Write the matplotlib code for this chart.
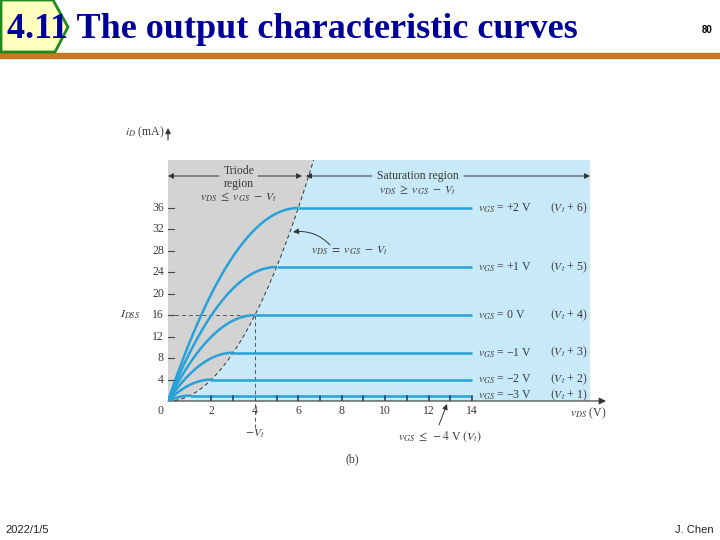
import matplotlib
matplotlib.use('Agg')
import matplotlib.pyplot as plt
import numpy as np
from matplotlib.patches import Polygon, Rectangle

plt.rcParams['mathtext.fontset'] = 'stix'
plt.rcParams['font.family'] = ['Liberation Serif', 'DejaVu Serif']

# Data
overdrive = [6, 5, 4, 3, 2, 1]            # v_GS - V_t (V)
i_sat = [36, 25, 16, 9, 4, 1]             # saturation current (mA)
vgs_labels = ['+2 V', '+1 V', '0 V', '\u22121 V', '\u22122 V', '\u22123 V']
vt_labels = ['6', '5', '4', '3', '2', '1']
x_ticks = [0, 2, 4, 6, 8, 10, 12, 14]
y_ticks = [4, 8, 12, 16, 20, 24, 28, 32, 36]
v_end = 14
i_dss = 16
vt_neg = 4

# pixel helpers for the slide layout
px_x = 21.714   # px per volt
px_y = 5.361    # px per mA
x0_px, y0_px = 168, 401

def dx(px):
    return (px - x0_px) / px_x

def dy(py):
    return (y0_px - py) / px_y

fig = plt.figure(figsize=(7.2, 5.4), dpi=100)

# --- slide decorations ---
fig.patches.append(Rectangle((0, 1 - 58 / 540), 1, 5 / 540, transform=fig.transFigure,
                             color='#c8781e', zorder=1))
banner = Polygon([(1 / 720, 1), (53 / 720, 1), (68 / 720, 1 - 27 / 540),
                  (55 / 720, 1 - 52 / 540), (1 / 720, 1 - 52 / 540)],
                 closed=True, transform=fig.transFigure, facecolor='#ffffc0',
                 edgecolor='#1e8a1e', linewidth=2, zorder=2)
fig.patches.append(banner)
fig.text(7 / 720, 1 - 29 / 540, '4.11 The output characteristic curves',
         fontsize=26, fontweight='bold', color='#000099', va='center', ha='left',
         family='Liberation Serif', zorder=3)
fig.text(712 / 720, 1 - 30 / 540, '80', fontsize=7, fontweight='bold',
         ha='right', va='center', family='Liberation Sans')
fig.text(5 / 720, 1 - 530 / 540, '2022/1/5', fontsize=8, ha='left', va='center',
         family='Liberation Sans', color='#222222')
fig.text(714 / 720, 1 - 530 / 540, 'J. Chen', fontsize=8, ha='right', va='center',
         family='Liberation Sans', color='#222222')

# --- chart ---
ax = fig.add_axes([x0_px / 720, (540 - y0_px) / 540, 438.6 / 720, 270 / 540])
ax.set_xlim(0, 438.6 / px_x)
ax.set_ylim(0, 270 / px_y)
ax.axis('off')

top = dy(160)
right = dx(590)
v_top = np.sqrt(top)

ax.add_patch(Rectangle((0, 0), right, top, facecolor='#c8e9f8', edgecolor='none', zorder=0))
vb = np.linspace(0, v_top, 100)
gray_pts = np.column_stack([np.r_[vb, 0], np.r_[vb ** 2, top]])
ax.add_patch(Polygon(gray_pts, closed=True, facecolor='#d3d3d3', edgecolor='none', zorder=1))
ax.plot(vb, vb ** 2, color='#333333', lw=0.7, ls=(0, (4, 3)), zorder=3)

curve_color = '#27a2d8'
text_color = '#3a3a3a'
fs = 8.5
for vov, isat, lab, vtl in zip(overdrive, i_sat, vgs_labels, vt_labels):
    k = isat / vov ** 2
    v = np.linspace(0, vov, 80)
    ax.plot(v, k * (2 * vov * v - v ** 2), color=curve_color, lw=1.8, zorder=4,
            solid_capstyle='butt')
    ax.plot([vov, v_end], [isat, isat], color=curve_color, lw=1.8, zorder=4,
            solid_capstyle='butt')
    ax.text(dx(478), isat, r'$v_{GS}$ = ' + lab, fontsize=fs, color=text_color,
            ha='left', va='center', zorder=5)
    ax.text(dx(588), isat, r'$(V_t$ + ' + vtl + ')', fontsize=fs, color=text_color,
            ha='right', va='center', zorder=5)

# axes lines and ticks
ax.annotate('', xy=(dx(606), 0), xytext=(0, 0),
            arrowprops=dict(arrowstyle='-|>', color='#333333', lw=0.8,
                            mutation_scale=10, shrinkA=0, shrinkB=0), annotation_clip=False)
ax.annotate('', xy=(0, dy(128)), xytext=(0, dy(140)),
            arrowprops=dict(arrowstyle='-|>', color='#333333', lw=0.8,
                            mutation_scale=8, shrinkA=0, shrinkB=0), annotation_clip=False)
for t in range(2, v_end + 1):
    if t != vt_neg:
        ax.plot([t, t], [0, 1], color='#2a4a66', lw=1.2, zorder=5)
for t in x_ticks:
    xt = dx(160) if t == 0 else t
    ax.text(xt, dy(411), str(t), fontsize=fs, color=text_color, ha='center', va='center',
            clip_on=False)
for t in y_ticks:
    ax.plot([0, dx(174)], [t, t], color='#444444', lw=0.8, zorder=5)
    ax.text(dx(164), t, str(t), fontsize=fs, color=text_color, ha='right', va='center',
            clip_on=False)

ax.text(dx(125), dy(132), r'$i_D$ (mA)', fontsize=fs, color=text_color, ha='left',
        va='center', clip_on=False)
ax.text(dx(606), dy(413), r'$v_{DS}$ (V)', fontsize=fs, color=text_color, ha='right',
        va='center', clip_on=False)

# I_DSS and -V_t guides
ax.plot([0, vt_neg], [i_dss, i_dss], color='#555555', lw=0.7, ls=(0, (4, 3)), zorder=3)
ax.plot([vt_neg, vt_neg], [dy(428), i_dss], color='#555555', lw=0.7, ls=(0, (4, 3)),
        zorder=3, clip_on=False)
ax.text(dx(130), i_dss, r'$I_{DSS}$', fontsize=fs, color=text_color, ha='center',
        va='center', clip_on=False)
ax.text(vt_neg, dy(434), r'$-V_t$', fontsize=fs, color=text_color, ha='center',
        va='center', clip_on=False)

# region labels
arr = dict(arrowstyle='-|>', color='#333333', lw=0.7, mutation_scale=8,
           shrinkA=0, shrinkB=0)
y_reg = dy(176)
ax.annotate('', xy=(0, y_reg), xytext=(dx(219), y_reg), arrowprops=arr)
ax.annotate('', xy=(dx(302), y_reg), xytext=(dx(258), y_reg), arrowprops=arr)
ax.text(dx(239), dy(171), 'Triode', fontsize=fs, color=text_color, ha='center', va='center')
ax.text(dx(239), dy(184), 'region', fontsize=fs, color=text_color, ha='center', va='center')
ax.text(dx(239), dy(197), r'$v_{DS}\ \leq\ v_{GS}\ -\ V_t$', fontsize=fs,
        color=text_color, ha='center', va='center')

ax.annotate('', xy=(dx(306), y_reg), xytext=(dx(372), y_reg), arrowprops=arr)
ax.annotate('', xy=(dx(590), y_reg), xytext=(dx(464), y_reg), arrowprops=arr)
ax.text(dx(418), dy(176), 'Saturation region', fontsize=fs, color=text_color,
        ha='center', va='center')
ax.text(dx(418), dy(190), r'$v_{DS}\ \geq\ v_{GS}\ -\ V_t$', fontsize=fs,
        color=text_color, ha='center', va='center')

ax.annotate('', xy=(dx(293), dy(232)), xytext=(dx(330), dy(245)),
            arrowprops=dict(arrowstyle='-|>', color='#333333', lw=0.7, mutation_scale=8,
                            connectionstyle='arc3,rad=0.25', shrinkA=0, shrinkB=0))
ax.text(dx(350), dy(251), r'$v_{DS}\ =\ v_{GS}\ -\ V_t$', fontsize=fs,
        color=text_color, ha='center', va='center')

ax.annotate('', xy=(dx(447), dy(404)), xytext=(dx(439), dy(425)),
            arrowprops=arr, annotation_clip=False)
ax.text(dx(440), dy(437), r'$v_{GS}\ \leq\ -4$ V $(V_t)$', fontsize=fs,
        color=text_color, ha='center', va='center', clip_on=False)
ax.text(dx(352), dy(459), '(b)', fontsize=fs, color=text_color, ha='center',
        va='center', clip_on=False)

fig.savefig('out.png', dpi=100)
